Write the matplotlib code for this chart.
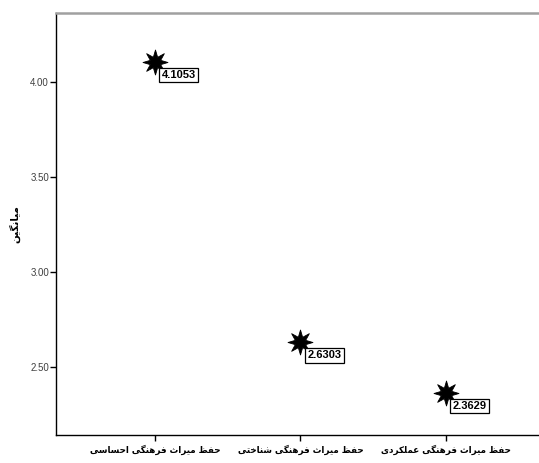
import matplotlib
matplotlib.use("Agg")
import matplotlib.pyplot as plt
import numpy as np
from matplotlib.path import Path

categories = ["حفظ میراث فرهنگی احساسی", "حفظ میراث فرهنگی شناختی", "حفظ میراث فرهنگی عملکردی"]
means = [4.1053, 2.6303, 2.3629]
yticks = [2.50, 3.00, 3.50, 4.00]
ylabel = "میانگین"

# Minimal Arabic/Persian shaper (presentation forms + visual order)
FORMS = {
    # char: (isolated, final, initial, medial)  dual joining
    "\u062D": ("\uFEA1", "\uFEA2", "\uFEA3", "\uFEA4"),
    "\u062E": ("\uFEA5", "\uFEA6", "\uFEA7", "\uFEA8"),
    "\u0641": ("\uFED1", "\uFED2", "\uFED3", "\uFED4"),
    "\u0638": ("\uFEC5", "\uFEC6", "\uFEC7", "\uFEC8"),
    "\u0645": ("\uFEE1", "\uFEE2", "\uFEE3", "\uFEE4"),
    "\u06CC": ("\uFBFC", "\uFBFD", "\uFBFE", "\uFBFF"),
    "\u062B": ("\uFE99", "\uFE9A", "\uFE9B", "\uFE9C"),
    "\u0647": ("\uFEE9", "\uFEEA", "\uFEEB", "\uFEEC"),
    "\u0646": ("\uFEE5", "\uFEE6", "\uFEE7", "\uFEE8"),
    "\u06AF": ("\uFB92", "\uFB93", "\uFB94", "\uFB95"),
    "\u0633": ("\uFEB1", "\uFEB2", "\uFEB3", "\uFEB4"),
    "\u0634": ("\uFEB5", "\uFEB6", "\uFEB7", "\uFEB8"),
    "\u062A": ("\uFE95", "\uFE96", "\uFE97", "\uFE98"),
    "\u0639": ("\uFEC9", "\uFECA", "\uFECB", "\uFECC"),
    "\u0644": ("\uFEDD", "\uFEDE", "\uFEDF", "\uFEE0"),
    "\u06A9": ("\uFB8E", "\uFB8F", "\uFB90", "\uFB91"),
}
RIGHT = {
    "\u0631": ("\uFEAD", "\uFEAE"),
    "\u0627": ("\uFE8D", "\uFE8E"),
    "\u062F": ("\uFEA9", "\uFEAA"),
}


def shape(s):
    s = s.replace("\u064A", "\u06CC").replace("\u0643", "\u06A9")
    out = []
    n = len(s)
    for i, c in enumerate(s):
        if c not in FORMS and c not in RIGHT:
            out.append(c)
            continue
        prev = s[i - 1] if i > 0 else None
        nxt = s[i + 1] if i < n - 1 else None
        pj = prev is not None and prev in FORMS
        nj = c in FORMS and nxt is not None and (nxt in FORMS or nxt in RIGHT)
        if c in RIGHT:
            out.append(RIGHT[c][1] if pj else RIGHT[c][0])
        else:
            iso, fin, ini, med = FORMS[c]
            if pj and nj:
                out.append(med)
            elif pj:
                out.append(fin)
            elif nj:
                out.append(ini)
            else:
                out.append(iso)
    return "".join(out)[::-1]


# spiky 8-point star marker (SPSS style)
ang = np.pi / 2 + np.arange(16) * np.pi / 8
rad = np.where(np.arange(16) % 2 == 0, 1.0, 0.45)
verts = np.column_stack([rad * np.cos(ang), rad * np.sin(ang)])
verts = np.vstack([verts, verts[:1]])
codes = [Path.MOVETO] + [Path.LINETO] * 15 + [Path.CLOSEPOLY]
star = Path(verts, codes)

fig = plt.figure(figsize=(5.39, 4.63), dpi=100)
ax = fig.add_axes([56 / 539, 1 - 435 / 463, 1 - 56 / 539, (435 - 13) / 463])

x = list(range(len(categories)))
ax.plot(x, means, linestyle="none", marker=star, markersize=18,
        color="black", markeredgecolor="black", markeredgewidth=0.6)

for xi, v in zip(x, means):
    ax.annotate(f"{v:.4f}", xy=(xi, v), xytext=(7, -8), textcoords="offset pixels",
                ha="left", va="top", fontsize=8, fontweight="bold",
                family="Liberation Sans",
                bbox=dict(boxstyle="square,pad=0.22", facecolor="white",
                          edgecolor="black", linewidth=0.9))

ax.set_xlim(-0.68, 2.64)
ax.set_ylim(2.142, 4.363)
ax.set_xticks(x)
ax.set_xticklabels([shape(c) for c in categories], fontsize=6.3, fontweight="bold",
                   family="DejaVu Sans")
ax.set_yticks(yticks)
ax.set_yticklabels([f"{t:.2f}" for t in yticks], fontsize=7, color="#404040",
                   family="Liberation Sans")
ax.tick_params(axis="both", direction="out", length=4, width=1, color="black")
ax.tick_params(axis="x", pad=3)
ax.tick_params(axis="y", pad=1)

ax.set_ylabel(shape(ylabel), fontsize=7.5, fontweight="bold", family="DejaVu Sans",
              labelpad=7)

ax.spines["right"].set_visible(False)
ax.spines["top"].set_color("#a0a0a0")
ax.spines["top"].set_linewidth(1.8)
ax.spines["left"].set_color("black")
ax.spines["bottom"].set_color("black")
ax.spines["left"].set_linewidth(1.0)
ax.spines["bottom"].set_linewidth(1.0)

fig.savefig("out.png", dpi=100, facecolor="white")
